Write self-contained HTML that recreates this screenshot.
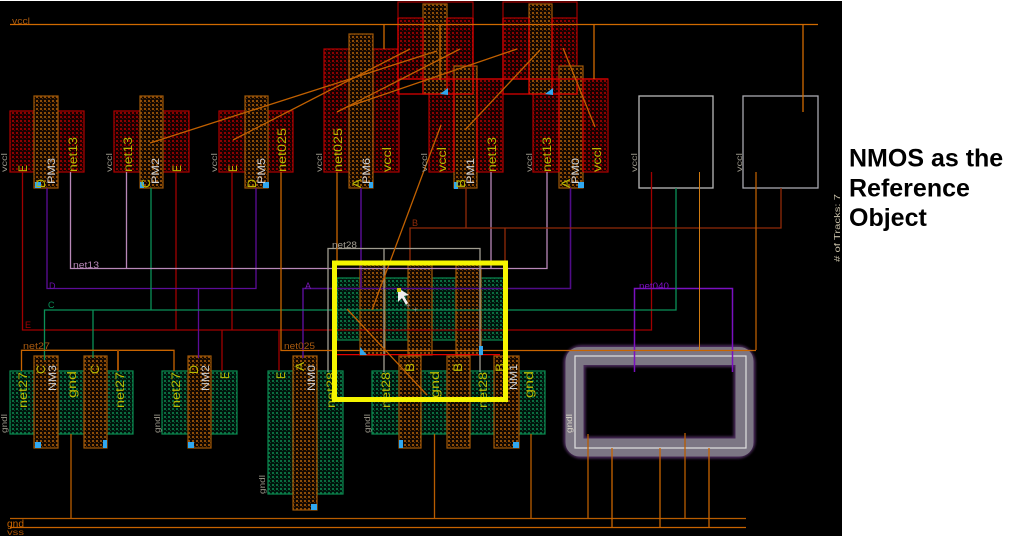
<!DOCTYPE html>
<html>
<head>
<meta charset="utf-8">
<title>NMOS as the Reference Object</title>
<style>
html,body{margin:0;padding:0;background:#fff;width:1013px;height:540px;overflow:hidden}
svg{display:block}
text{font-family:"Liberation Sans",sans-serif}
.y{fill:#b8b800;font-size:11.5px}
.w{fill:#d0d0d0;font-size:11px}
.g{fill:#989488;font-size:8px}
.o{fill:#a85a10;font-size:9px}
.n{fill:none}
</style>
</head>
<body>
<svg width="1013" height="540" viewBox="0 0 1013 540" xmlns="http://www.w3.org/2000/svg">
<defs>
<pattern id="pr" width="4" height="4" patternUnits="userSpaceOnUse"><rect width="4" height="4" fill="#180000"/><rect width="2" height="2" fill="#8c0000"/><rect x="2" y="2" width="1" height="1" fill="#600000"/></pattern>
<pattern id="pp" width="4" height="4" patternUnits="userSpaceOnUse"><rect width="4" height="4" fill="#140800"/><rect width="2" height="2" fill="#8c4c08"/><rect x="2" y="2" width="1" height="1" fill="#603000"/></pattern>
<pattern id="pg" width="4" height="4" patternUnits="userSpaceOnUse"><rect width="4" height="4" fill="#00140c"/><rect width="2" height="2" fill="#0a6c40"/><rect x="2" y="2" width="1" height="1" fill="#064c2c"/></pattern>
<filter id="soft" x="-10%" y="-15%" width="120%" height="130%"><feGaussianBlur stdDeviation="1.4"/></filter>
</defs>
<rect width="1013" height="540" fill="#fff"/>
<rect x="0" y="1" width="842" height="535" fill="#000"/>

<!-- PMOS diffusion -->
<g fill="url(#pr)" stroke="#b00000" stroke-width="1.2">
<rect x="10" y="111" width="74" height="61"/>
<rect x="114" y="111" width="75" height="61"/>
<rect x="219" y="111" width="74" height="61"/>
<rect x="324" y="49" width="75" height="123"/>
<rect x="429" y="79" width="74" height="93"/>
<rect x="533" y="79" width="75" height="93"/>
<rect x="398" y="18" width="75" height="61"/>
<rect x="503" y="18" width="74" height="61"/>
</g>
<g class="n" stroke="#a00000" stroke-width="1.2" fill="none">
<path d="M398 18V2H473V18M503 18V2H577V18"/>
</g>
<!-- PMOS poly -->
<g fill="url(#pp)" stroke="#a05808" stroke-width="1.2">
<rect x="34" y="96" width="24" height="92"/>
<rect x="140" y="96" width="23" height="92"/>
<rect x="245" y="96" width="23" height="92"/>
<rect x="349" y="34" width="24" height="154"/>
<rect x="454" y="66" width="23" height="122"/>
<rect x="559" y="66" width="24" height="122"/>
<rect x="423" y="4" width="24" height="90"/>
<rect x="529" y="4" width="23" height="90"/>
</g>
<g stroke="#e00000" stroke-width="1.2" fill="none">
<path d="M398 79V94H473V79M503 79V94H577V79M398 79H608M423 18V94M447 18V94M529 18V94M552 18V94M454 79V172M477 79V172M559 79V172M583 79V172M398 18V79M473 18V79M503 18V79"/>
</g>

<!-- White cells -->
<rect x="639" y="96" width="74" height="92" fill="#000" stroke="#b8b8b8" stroke-width="1.3"/>
<rect x="743" y="96" width="75" height="92" fill="#000" stroke="#a8a8b0" stroke-width="1.3"/>

<!-- Reference NMOS inside yellow -->
<g fill="url(#pg)" stroke="#0a8a50" stroke-width="1.2">
<rect x="337" y="278" width="72" height="62"/>
<rect x="431" y="278" width="26" height="62"/>
<rect x="480" y="278" width="26" height="62"/>
</g>
<g fill="url(#pp)" stroke="#a05808" stroke-width="1.2">
<rect x="360" y="264" width="25" height="91"/>
<rect x="408" y="264" width="24" height="91"/>
<rect x="456" y="264" width="25" height="91"/>
</g>

<!-- NMOS row -->
<g fill="url(#pg)" stroke="#0a8a50" stroke-width="1.2">
<rect x="10" y="371" width="123" height="63"/>
<rect x="162" y="371" width="75" height="63"/>
<rect x="268" y="371" width="75" height="123"/>
<rect x="372" y="371" width="173" height="63"/>
</g>
<g fill="url(#pp)" stroke="#a05808" stroke-width="1.2">
<rect x="34" y="356" width="24" height="92"/>
<rect x="84" y="356" width="23" height="92"/>
<rect x="188" y="356" width="23" height="92"/>
<rect x="293" y="356" width="24" height="154"/>
<rect x="399" y="356" width="22" height="92"/>
<rect x="447" y="356" width="23" height="92"/>
<rect x="494" y="356" width="25" height="92"/>
</g>

<!-- Guard ring -->
<rect x="574.5" y="356" width="170" height="91.5" rx="7" fill="none" stroke="#4c2c5c" stroke-width="22" filter="url(#soft)"/>
<rect x="574.5" y="356" width="170" height="91.5" rx="5" fill="none" stroke="#7c7684" stroke-width="18"/>
<rect x="575" y="356" width="171" height="92" fill="none" stroke="#e0e0e0" stroke-width="1.2"/>

<!-- Wires -->
<g fill="none" stroke-width="1.3">
<path stroke="#d06a00" d="M10 24.5H818M384 24V49M594 24V79M803 24V112M440 24V80"/>
<path stroke="#a00000" d="M22.5 172V330H651.5V172M176 172V330M232 172V330M222 330V371M279 330V371"/>
<path stroke="#5c0c98" d="M47 188V288.5H256V188M198.5 288V358"/>
<path stroke="#500c88" stroke-width="1.6" d="M303 358V288.5H570.5V188M361 188V288"/>
<path stroke="#7a10c0" stroke-width="1.5" d="M634.5 372V288.5H732.5V372"/>
<path stroke="#0a9058" d="M44.5 360V310H676V188M93 310V358M151 188V310"/>
<path stroke="#b888b8" d="M70.5 172V268.5H547V172M126.5 172V268M491 172V268"/>
<path stroke="#902a08" d="M466 188V228M410 264V228H781V188M505 228V264"/>
<path stroke="#a09c90" d="M328 372V248.5H480V372M384 248V372"/>
<path stroke="#c86400" d="M281 172V350.5H756"/>
<path stroke="#b85c00" d="M756 172V350"/>
<path stroke="#d07a10" stroke-width="1" d="M699.5 172V350"/>
<path stroke="#c86400" d="M337 172V265"/>
<path stroke="#c86400" d="M21.5 371V350.3H174V371"/>
<path stroke="#a04e00" stroke-width="2" d="M118 350V371"/>
<path stroke="#e00000" d="M337 354.6H500"/>
<path stroke="#b85c00" d="M10 518.5H746M71 434V518M434.5 434V518M531 434V518M588 434V518M685 433V518"/>
<path stroke="#c86400" d="M10 527.5H746M612 448V527M660 448V527M709 448V527"/>
</g>

<!-- Diagonal interconnects -->
<g stroke="#c06000" stroke-width="1.3" fill="none">
<path d="M233 140L410 49"/>
<path d="M150 143L437 51"/>
<path d="M337 112L460 49"/>
<path d="M347 107L517 49"/>
<path d="M465 130L540 50"/>
<path d="M563 48L595 127"/>
<path d="M441 125L372 310"/>
<path d="M347 309L427 395"/>
</g>

<!-- Blue contacts -->
<g fill="#30a8f0">
<rect x="35" y="182" width="6" height="6"/>
<rect x="140" y="182" width="4" height="6"/>
<rect x="263" y="182" width="6" height="6"/>
<rect x="369" y="182" width="4" height="6"/>
<rect x="454" y="182" width="4" height="7"/>
<rect x="578" y="182" width="6" height="6"/>
<path d="M440 94L448 88V95Z"/>
<path d="M545 94L553 88V95Z"/>
<path d="M360 347L367 355H360Z"/>
<rect x="479" y="346" width="4" height="9"/>
<rect x="35" y="442" width="6" height="6"/>
<rect x="103" y="440" width="4" height="8"/>
<rect x="188" y="442" width="6" height="6"/>
<rect x="311" y="504" width="6" height="6"/>
<rect x="399" y="440" width="4" height="8"/>
<rect x="513" y="442" width="6" height="6"/>
</g>

<!-- Rotated labels -->
<g class="y">
<text transform="translate(27,172) rotate(-90)" textLength="7" lengthAdjust="spacingAndGlyphs">E</text>
<text transform="translate(77,172) rotate(-90)" textLength="35" lengthAdjust="spacingAndGlyphs">net13</text>
<text transform="translate(45,188) rotate(-90)" textLength="9" lengthAdjust="spacingAndGlyphs">D</text>
<text transform="translate(132,172) rotate(-90)" textLength="35" lengthAdjust="spacingAndGlyphs">net13</text>
<text transform="translate(181,172) rotate(-90)" textLength="7" lengthAdjust="spacingAndGlyphs">E</text>
<text transform="translate(150,188) rotate(-90)" textLength="9" lengthAdjust="spacingAndGlyphs">C</text>
<text transform="translate(237,172) rotate(-90)" textLength="7" lengthAdjust="spacingAndGlyphs">E</text>
<text transform="translate(256,188) rotate(-90)" textLength="9" lengthAdjust="spacingAndGlyphs">D</text>
<text transform="translate(286,172) rotate(-90)" textLength="44" lengthAdjust="spacingAndGlyphs">net025</text>
<text transform="translate(342,172) rotate(-90)" textLength="44" lengthAdjust="spacingAndGlyphs">net025</text>
<text transform="translate(361,188) rotate(-90)" textLength="9" lengthAdjust="spacingAndGlyphs">A</text>
<text transform="translate(391,172) rotate(-90)" textLength="25" lengthAdjust="spacingAndGlyphs">vccl</text>
<text transform="translate(446,172) rotate(-90)" textLength="25" lengthAdjust="spacingAndGlyphs">vccl</text>
<text transform="translate(465,188) rotate(-90)" textLength="9" lengthAdjust="spacingAndGlyphs">B</text>
<text transform="translate(496,172) rotate(-90)" textLength="35" lengthAdjust="spacingAndGlyphs">net13</text>
<text transform="translate(551,172) rotate(-90)" textLength="35" lengthAdjust="spacingAndGlyphs">net13</text>
<text transform="translate(570,188) rotate(-90)" textLength="9" lengthAdjust="spacingAndGlyphs">A</text>
<text transform="translate(601,172) rotate(-90)" textLength="25" lengthAdjust="spacingAndGlyphs">vccl</text>

<text transform="translate(27,408) rotate(-90)" textLength="36" lengthAdjust="spacingAndGlyphs">net27</text>
<text transform="translate(45,374) rotate(-90)" textLength="9" lengthAdjust="spacingAndGlyphs">C</text>
<text transform="translate(99,374) rotate(-90)" textLength="9" lengthAdjust="spacingAndGlyphs">C</text>
<text transform="translate(76,398) rotate(-90)" textLength="27" lengthAdjust="spacingAndGlyphs">gnd</text>
<text transform="translate(124,408) rotate(-90)" textLength="36" lengthAdjust="spacingAndGlyphs">net27</text>
<text transform="translate(180,408) rotate(-90)" textLength="36" lengthAdjust="spacingAndGlyphs">net27</text>
<text transform="translate(198,374) rotate(-90)" textLength="9" lengthAdjust="spacingAndGlyphs">D</text>
<text transform="translate(229,379) rotate(-90)" textLength="7" lengthAdjust="spacingAndGlyphs">E</text>
<text transform="translate(285,379) rotate(-90)" textLength="7" lengthAdjust="spacingAndGlyphs">E</text>
<text transform="translate(304,371) rotate(-90)" textLength="9" lengthAdjust="spacingAndGlyphs">A</text>
<text transform="translate(335,408) rotate(-90)" textLength="36" lengthAdjust="spacingAndGlyphs">net28</text>
<text transform="translate(390,408) rotate(-90)" textLength="36" lengthAdjust="spacingAndGlyphs">net28</text>
<text transform="translate(414,372) rotate(-90)" textLength="9" lengthAdjust="spacingAndGlyphs">B</text>
<text transform="translate(439,398) rotate(-90)" textLength="27" lengthAdjust="spacingAndGlyphs">gnd</text>
<text transform="translate(462,372) rotate(-90)" textLength="9" lengthAdjust="spacingAndGlyphs">B</text>
<text transform="translate(487,408) rotate(-90)" textLength="36" lengthAdjust="spacingAndGlyphs">net28</text>
<text transform="translate(504,372) rotate(-90)" textLength="9" lengthAdjust="spacingAndGlyphs">B</text>
<text transform="translate(533,398) rotate(-90)" textLength="27" lengthAdjust="spacingAndGlyphs">gnd</text>
</g>
<g class="w">
<text transform="translate(55,184) rotate(-90)" textLength="26" lengthAdjust="spacingAndGlyphs">PM3</text>
<text transform="translate(159,184) rotate(-90)" textLength="26" lengthAdjust="spacingAndGlyphs">PM2</text>
<text transform="translate(265,184) rotate(-90)" textLength="26" lengthAdjust="spacingAndGlyphs">PM5</text>
<text transform="translate(370,184) rotate(-90)" textLength="26" lengthAdjust="spacingAndGlyphs">PM6</text>
<text transform="translate(474,184) rotate(-90)" textLength="26" lengthAdjust="spacingAndGlyphs">PM1</text>
<text transform="translate(579,184) rotate(-90)" textLength="26" lengthAdjust="spacingAndGlyphs">PM0</text>
<text transform="translate(56,391) rotate(-90)" textLength="26" lengthAdjust="spacingAndGlyphs">NM3</text>
<text transform="translate(209,391) rotate(-90)" textLength="26" lengthAdjust="spacingAndGlyphs">NM2</text>
<text transform="translate(315,391) rotate(-90)" textLength="26" lengthAdjust="spacingAndGlyphs">NM0</text>
<text transform="translate(517,390) rotate(-90)" textLength="26" lengthAdjust="spacingAndGlyphs">NM1</text>
</g>
<g class="g">
<text transform="translate(7,172) rotate(-90)" textLength="19" lengthAdjust="spacingAndGlyphs">vccl</text>
<text transform="translate(112,172) rotate(-90)" textLength="19" lengthAdjust="spacingAndGlyphs">vccl</text>
<text transform="translate(217,172) rotate(-90)" textLength="19" lengthAdjust="spacingAndGlyphs">vccl</text>
<text transform="translate(322,172) rotate(-90)" textLength="19" lengthAdjust="spacingAndGlyphs">vccl</text>
<text transform="translate(427,172) rotate(-90)" textLength="19" lengthAdjust="spacingAndGlyphs">vccl</text>
<text transform="translate(532,172) rotate(-90)" textLength="19" lengthAdjust="spacingAndGlyphs">vccl</text>
<text transform="translate(637,172) rotate(-90)" textLength="19" lengthAdjust="spacingAndGlyphs">vccl</text>
<text transform="translate(742,172) rotate(-90)" textLength="19" lengthAdjust="spacingAndGlyphs">vccl</text>
<text transform="translate(7,433) rotate(-90)" textLength="19" lengthAdjust="spacingAndGlyphs">gndl</text>
<text transform="translate(160,433) rotate(-90)" textLength="19" lengthAdjust="spacingAndGlyphs">gndl</text>
<text transform="translate(265,494) rotate(-90)" textLength="19" lengthAdjust="spacingAndGlyphs">gndl</text>
<text transform="translate(370,433) rotate(-90)" textLength="19" lengthAdjust="spacingAndGlyphs">gndl</text>
<text transform="translate(572,433) rotate(-90)" textLength="19" lengthAdjust="spacingAndGlyphs" style="fill:#d8d4c8">gndl</text>
<text transform="translate(840,262) rotate(-90)" textLength="68" lengthAdjust="spacingAndGlyphs" style="fill:#c8c0a8"># of Tracks: 7</text>
</g>

<!-- Horizontal labels -->
<text x="12" y="24" class="o" textLength="18" lengthAdjust="spacingAndGlyphs">vccl</text>
<text x="73" y="268" style="fill:#b888b8;font-size:9px" textLength="26" lengthAdjust="spacingAndGlyphs">net13</text>
<text x="332" y="248" style="fill:#a09c90;font-size:9px" textLength="25" lengthAdjust="spacingAndGlyphs">net28</text>
<text x="412" y="226" style="fill:#902a08;font-size:9px">B</text>
<text x="49" y="289" style="fill:#6a10a8;font-size:9px">D</text>
<text x="305" y="289" style="fill:#7a18b8;font-size:9px">A</text>
<text x="48" y="308" style="fill:#0a9058;font-size:9px">C</text>
<text x="25" y="328" style="fill:#a00000;font-size:9px">E</text>
<text x="23" y="349" class="o" textLength="27" lengthAdjust="spacingAndGlyphs">net27</text>
<text x="284" y="349" class="o" textLength="31" lengthAdjust="spacingAndGlyphs">net025</text>
<text x="639" y="289" style="fill:#7a10c0;font-size:9px" textLength="30" lengthAdjust="spacingAndGlyphs">net040</text>
<text x="7" y="527" style="fill:#c86400;font-size:10px" textLength="17" lengthAdjust="spacingAndGlyphs">gnd</text>
<text x="7" y="535" style="fill:#a85000;font-size:8px" textLength="17" lengthAdjust="spacingAndGlyphs">vss</text>

<!-- Yellow highlight -->
<rect x="334.5" y="263" width="171" height="136.5" fill="none" stroke="#f5f500" stroke-width="5"/>

<!-- Cursor -->
<path d="M398 288L398 302L402 298L406 305L408 303L404 296L409 295Z" fill="#eee"/>
<text x="406" y="308" style="fill:#888;font-size:8px">+</text>
<text x="413" y="312" style="fill:#888;font-size:8px">+</text>
<rect x="397" y="288" width="4" height="4" fill="#c8c800"/>

<!-- Caption -->
<g style="font-weight:bold;font-size:25px;fill:#000">
<text x="849" y="166.5">NMOS as the</text>
<text x="849" y="196.5">Reference</text>
<text x="849" y="226">Object</text>
</g>
</svg>
</body>
</html>
